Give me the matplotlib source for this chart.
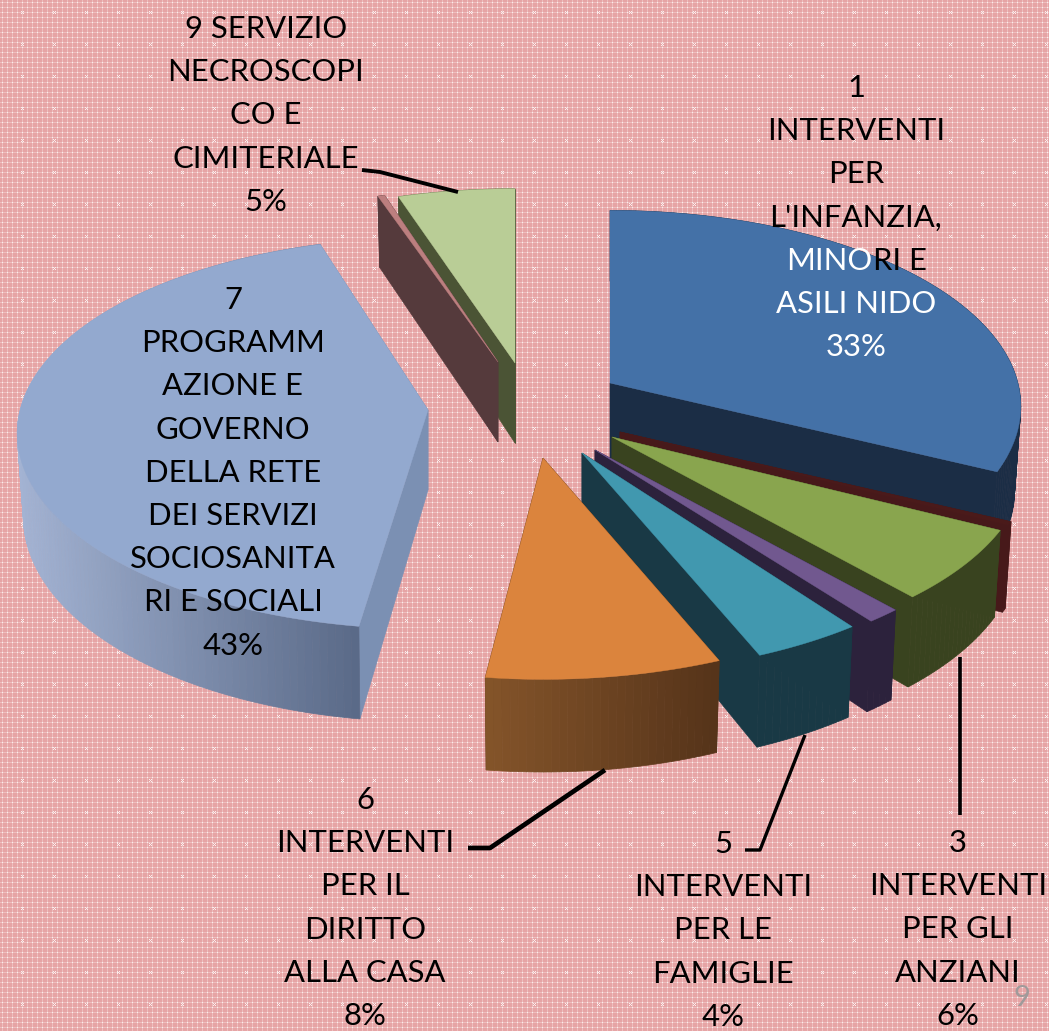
import matplotlib
matplotlib.use("Agg")
import matplotlib.pyplot as plt
from matplotlib.patches import Polygon
import numpy as np

# slices clockwise from the top, in percent (2, 4 and 8 have no label in the chart)
values = [33, 0.3, 6, 1.2, 4, 8, 43, 0.3, 5]

labels = {
    0: ["1", "INTERVENTI", "PER", "L'INFANZIA,", "", "ASILI NIDO", "33%"],
    2: ["3", "INTERVENTI", "PER GLI", "ANZIANI", "6%"],
    4: ["5", "INTERVENTI", "PER LE", "FAMIGLIE", "4%"],
    5: ["6", "INTERVENTI", "PER IL", "DIRITTO", "ALLA CASA", "8%"],
    6: ["7", "PROGRAMM", "AZIONE E", "GOVERNO", "DELLA RETE", "DEI SERVIZI", "SOCIOSANITA", "RI E SOCIALI", "43%"],
    8: ["9 SERVIZIO", "NECROSCOPI", "CO E", "CIMITERIALE", "5%"],
}

top_colors = ["#4471A7", "#4A1A1A", "#89A54E", "#71588F", "#4198AF", "#DB843D", "#93A9CF", "#BC7F7F", "#B9CD96"]
wall_left = ["#1B2D45", "#47191A", "#39431F", "#2C223C", "#193945", "#85552A", "#A4B4D4", "#553A3C", "#4B5435"]
wall_right = ["#1B2D45", "#47191A", "#39431F", "#2C223C", "#193945", "#56341A", "#5A6A88", "#553A3C", "#4B5435"]
cut_colors = ["#1B2D45", "#47191A", "#39431F", "#2C223C", "#193945", "#56341A", "#7B90B3", "#553A3C", "#4B5435"]

# where each exploded slice has its tip, in pixels
tips = [(610, 383), (620, 432), (612, 437), (595, 450), (582, 453), (543, 458), (428, 410), (498, 362), (515, 363)]
# the perspective of the original moves the slice edges a little (degrees)
start_nudge = [0, -2, -2, -2, -1, -1.3, 1.1, 0, -0.5]
end_nudge = [-2, -2, -2, -2, -1.5, -0.4, 1.8, 0, 0]
radius = [0.99, 1, 1, 1, 1, 1, 0.99, 1, 1]
RX, RY, K = 412, 195, 0.119
DEPTH = 80

label_xy = {0: (856, 88), 2: (958, 843), 4: (723, 844), 5: (365, 800), 6: (233, 300), 8: (266, 29)}
LINE_H = 43.2
FS = 22.3
white_lines = {0: [5, 6]}

leaders = [
    ([362, 380, 458], [170, 172, 192], 2.8),
    ([960, 960], [657, 815], 2.6),
    ([805, 760, 745], [735, 850, 850], 2.4),
    ([605, 490, 468], [770, 848, 848], 3.4),
]


def project(theta, tip, r=1.0):
    u = np.sin(theta)
    v = -np.cos(theta)
    s = 1 / (1 - K * v)
    return tip[0] + RX * r * u * s, tip[1] + RY * r * v * s


def mix(c1, c2, t):
    a = np.array(matplotlib.colors.to_rgb(c1))
    b = np.array(matplotlib.colors.to_rgb(c2))
    return a + (b - a) * t


def drop(theta):
    # the side wall is a bit taller toward the viewer
    return DEPTH + 2 - 14 * np.cos(theta)


def background(h, w):
    img = np.zeros((h, w, 3))
    img[:, :] = (230, 164, 165)
    yy, xx = np.mgrid[0:h, 0:w]
    img[(xx % 5 == 2) | (yy % 5 == 2)] = (237, 190, 190)
    img[(xx % 5 == 2) & (yy % 5 == 2)] = (252, 236, 236)
    px, py = (xx % 32), (yy % 32)
    cross = (np.abs(px - 22) == np.abs(py - 12)) & (np.abs(px - 22) <= 1)
    img[cross] = (250, 238, 238)
    return img / 255


fig = plt.figure(figsize=(10.49, 10.31), dpi=100)
ax = fig.add_axes([0, 0, 1, 1])
ax.imshow(background(1031, 1049), extent=(0, 1049, 1031, 0), interpolation="nearest", zorder=0)
ax.set_xlim(0, 1049)
ax.set_ylim(1031, 0)
ax.axis("off")

fracs = np.array(values) / sum(values)
edges = np.concatenate([[0], np.cumsum(fracs)]) * 2 * np.pi
z = 1
for i in [0, 1, 2, 3, 4, 5, 6, 8, 7]:
    t0 = edges[i] + np.radians(start_nudge[i])
    t1 = edges[i + 1] + np.radians(end_nudge[i])
    tip = tips[i]
    thetas = np.linspace(t0, t1, max(int(np.degrees(t1 - t0)), 2) + 1)
    rim = np.array([project(t, tip, radius[i]) for t in thetas])
    rim_low = np.array([project(t, tip, radius[i] * 0.985) for t in thetas])
    rim_low[:, 1] += [drop(t) for t in thetas]
    tip_low = (tip[0], tip[1] + DEPTH)

    # cut faces
    for k in [0, -1]:
        ax.add_patch(Polygon([tip, rim[k], rim_low[k], tip_low], color=cut_colors[i], lw=0.5, zorder=z))
    # outer wall, back pieces first
    order = np.argsort(-np.cos(thetas[:-1] + (t1 - t0) / (2 * len(thetas))))
    for k in order:
        t = np.clip((rim[k, 0] - 15) / 345, 0, 1) if i == 6 else np.clip((rim[k, 0] - 485) / 232, 0, 1)
        c = mix(wall_left[i], wall_right[i], t)
        ax.add_patch(Polygon([rim[k], rim[k + 1], rim_low[k + 1], rim_low[k]], color=c, lw=0.5, zorder=z))
    ax.add_patch(Polygon(np.vstack([[tip], rim]), color=top_colors[i], lw=0.3, zorder=z))
    z += 1

for xs, ys, w in leaders:
    ax.plot(xs, ys, color="black", lw=w, solid_capstyle="butt", zorder=30)

for i, lines in labels.items():
    x, y = label_xy[i]
    for n, line in enumerate(lines):
        col = "white" if n in white_lines.get(i, []) else "black"
        ax.text(x, y + n * LINE_H, line, ha="center", va="center", fontsize=FS, family="Lato", color=col, zorder=40)

# this line of label 1 crosses the edge of the slice and changes colour
ax.text(872, 88 + 4 * LINE_H, "MINO", ha="right", va="center", fontsize=FS, family="Lato", color="white", zorder=40)
ax.text(873, 88 + 4 * LINE_H, "RI E", ha="left", va="center", fontsize=FS, family="Lato", color="black", zorder=40)

ax.text(1022, 998, "9", ha="center", va="center", fontsize=21, family="Lato", color="#A09A9A", zorder=40)

fig.savefig("out.png", dpi=100)
